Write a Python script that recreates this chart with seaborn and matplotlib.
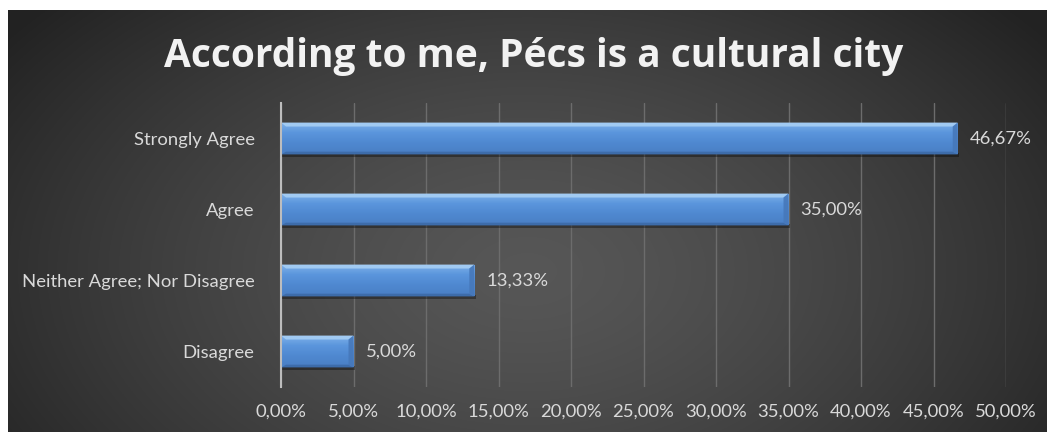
import numpy as np
import matplotlib
matplotlib.use("Agg")
import matplotlib.pyplot as plt
from matplotlib.patches import Polygon, Rectangle
import seaborn as sns

# Survey responses
categories = ["Strongly Agree", "Agree", "Neither Agree; Nor Disagree", "Disagree"]
percentages = [46.67, 35.00, 13.33, 5.00]
x_ticks = [0, 5, 10, 15, 20, 25, 30, 35, 40, 45, 50]
title = "According to me, Pécs is a cultural city"

sns.set_theme(style="dark")
plt.rcParams["font.family"] = ["Lato", "DejaVu Sans"]

W, H = 1049, 432
fig = plt.figure(figsize=(W / 100, H / 100), dpi=100, facecolor="white")

# Dark radial-gradient backdrop
bg = fig.add_axes([8 / W, 0, (1047 - 8) / W, (H - 10) / H])
bg.set_axis_off()
gy, gx = np.mgrid[0:1:300j, 0:1:700j]
r = np.sqrt(((gx - 0.5) / 0.62) ** 2 + ((gy - 0.62) / 0.95) ** 2)
r = np.clip(r, 0, 1)
c_center = np.array([0.34, 0.34, 0.34])
c_edge = np.array([0.135, 0.135, 0.135])
img = c_center + (c_edge - c_center) * (r[..., None] ** 1.4)
bg.imshow(img, aspect="auto", extent=[0, 1, 0, 1], origin="upper")
bg.set_xlim(0, 1)
bg.set_ylim(0, 1)

ax = fig.add_axes([281 / W, 1 - 387 / H, 725 / W, (387 - 103) / H])
ax.set_facecolor("none")

df = {"category": categories, "value": percentages}
sns.barplot(x="value", y="category", data=df, orient="h", width=0.45,
            color="#5590d8", ax=ax, zorder=3)

ax.set_xlim(0, 50)
ax.set_ylim(len(categories) - 0.5, -0.5)
ax.set_xticks(x_ticks)
ax.set_xticklabels([f"{t:.2f}".replace(".", ",") + "%" for t in x_ticks])
ax.set_xlabel("")
ax.set_ylabel("")

for s in ["top", "right", "bottom"]:
    ax.spines[s].set_visible(False)
ax.spines["left"].set_color("#bdbdbd")
ax.spines["left"].set_linewidth(1.5)
ax.spines["left"].set_zorder(5)

ax.xaxis.grid(True, color="#6c6c6c", linewidth=1.0, zorder=0)
ax.yaxis.grid(False)
ax.set_axisbelow(True)
ax.tick_params(axis="both", length=0, colors="#d9d9d9", labelsize=13.3)
ax.tick_params(axis="y", pad=19)
ax.tick_params(axis="x", pad=12)

# Bevelled gradient fill for each bar
px_x = 50 / 725.0
px_y = 4.0 / 284.0
grad = np.linspace(0, 1, 64)[:, None]
bar_cmap = matplotlib.colors.LinearSegmentedColormap.from_list(
    "bar", ["#7fb2ea", "#5a95dc", "#4f88d0", "#4a7fc4"])
for patch, val in zip(ax.patches, percentages):
    x0, y0 = patch.get_x(), patch.get_y()
    w, h = patch.get_width(), patch.get_height()
    y_top, y_bot = y0, y0 + h
    # drop shadow beneath
    ax.add_patch(Rectangle((x0, y_bot - 0.3 * px_y * 4), w + 1.5 * px_x, 4 * px_y,
                           facecolor="black", alpha=0.35, edgecolor="none", zorder=2))
    im = ax.imshow(grad, cmap=bar_cmap, aspect="auto",
                   extent=[x0, x0 + w, y_bot, y_top], zorder=3.1)
    im.set_clip_path(patch)
    patch.set_facecolor("none")
    patch.set_edgecolor("none")
    bx = 5 * px_x
    by = 4 * px_y
    # top highlight
    ax.add_patch(Polygon([(x0, y_top), (x0 + w, y_top), (x0 + w - bx, y_top + by), (x0 + bx, y_top + by)],
                         closed=True, facecolor="#a9d0f5", edgecolor="none", alpha=0.85, zorder=3.2))
    # bottom shade
    ax.add_patch(Polygon([(x0, y_bot), (x0 + w, y_bot), (x0 + w - bx, y_bot - by * 0.7), (x0 + bx, y_bot - by * 0.7)],
                         closed=True, facecolor="#3c6aa8", edgecolor="none", alpha=0.9, zorder=3.2))
    # right end bevel
    ax.add_patch(Polygon([(x0 + w, y_top), (x0 + w, y_bot), (x0 + w - bx, y_bot - by * 0.7), (x0 + w - bx, y_top + by)],
                         closed=True, facecolor="#4678ba", edgecolor="none", alpha=0.9, zorder=3.2))
    ax.text(val + 12 * px_x, y0 + h / 2, f"{val:.2f}".replace(".", ",") + "%",
            va="center", ha="left", color="#d9d9d9", fontsize=13.3, zorder=4)

fig.text(534 / W, 1 - 56 / H, title, ha="center", va="center", color="#f2f2f2",
         fontsize=28, fontweight="bold", family=["Open Sans", "DejaVu Sans"])

fig.savefig("out.png", dpi=100, facecolor="white")
